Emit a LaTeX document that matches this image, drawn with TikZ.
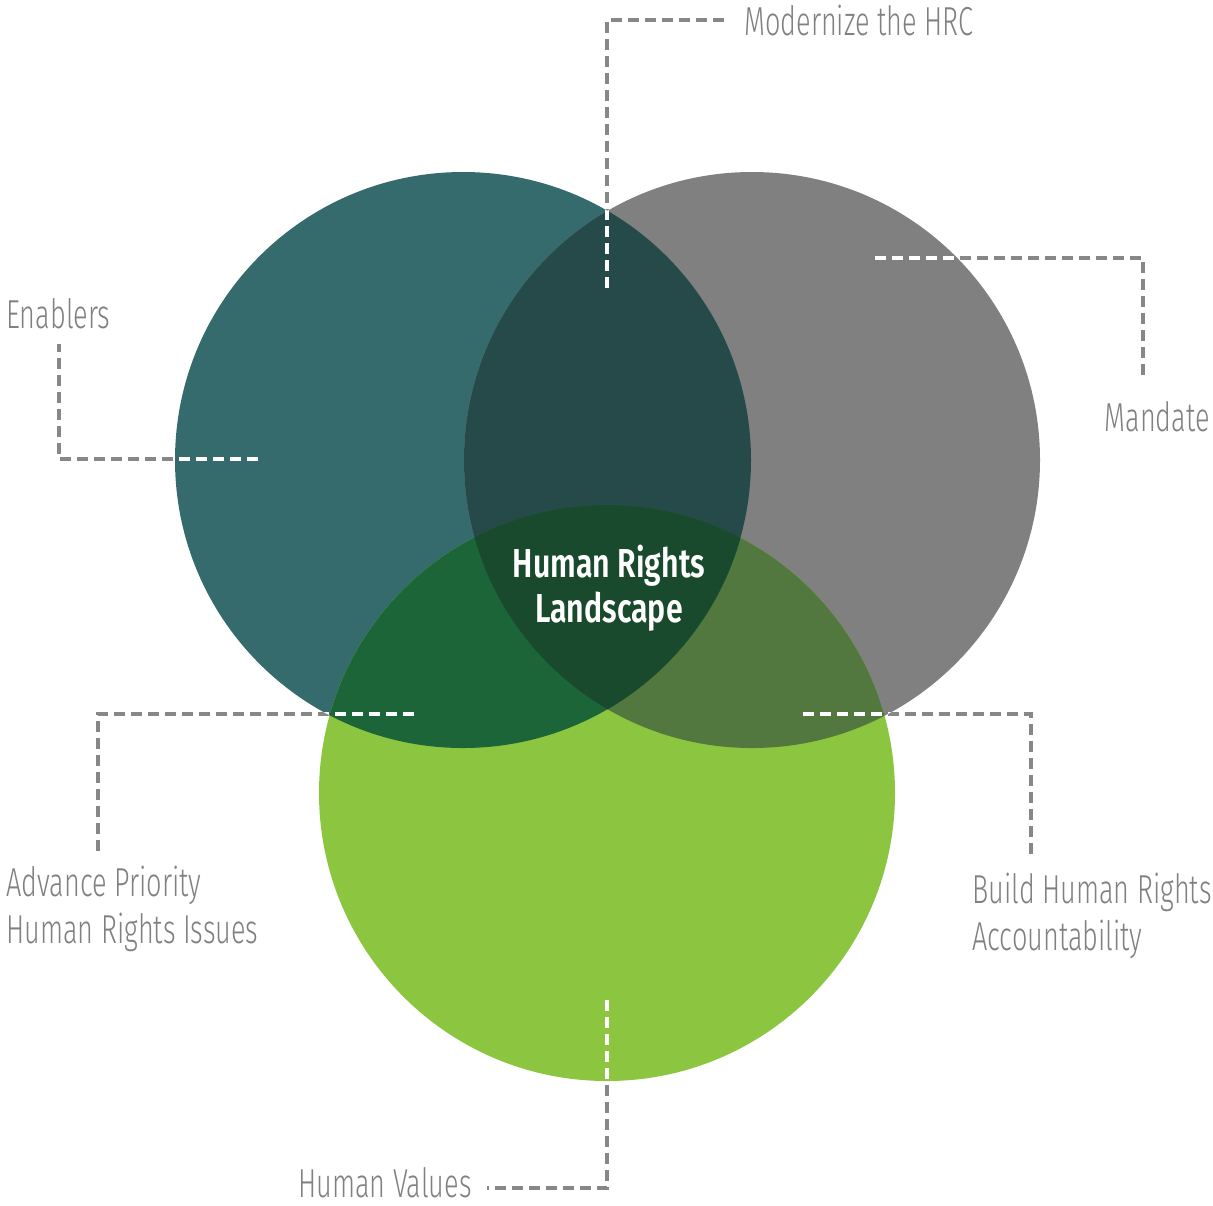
\documentclass[tikz,border=0pt]{standalone}
\usepackage{fontspec}
\setmainfont{Fira Sans}[UprightFont=* Light, FakeStretch=0.67]
\newfontfamily\corefont{Fira Sans}[UprightFont=* SemiBold, FakeStretch=0.75]
\usetikzlibrary{positioning}
\definecolor{TealRing}{HTML}{356B6D}
\definecolor{GreyRing}{HTML}{7F807F}
\definecolor{LimeRing}{HTML}{8CC540}
\definecolor{TealGrey}{HTML}{264A49}
\definecolor{TealLime}{HTML}{1B6538}
\definecolor{GreyLime}{HTML}{52773F}
\definecolor{CoreGreen}{HTML}{1A4A2E}
\definecolor{LabelGrey}{HTML}{808080}
\definecolor{LeadGrey}{HTML}{878787}
\newcommand\ringr{288}
\newcommand\drawleads[1]{%
  \draw[lead,#1] (mod-in) -- (mod-bend) -- (mod-bend -| mod.west);
  \draw[lead,#1] (en-in) -- (en-bend) -- (en-bend |- en.south);
  \draw[lead,#1,shorten >=0.5cm] (man-in) -- (man-bend) -- (man-bend |- man.north);
  \draw[lead,#1] (adv-in) -- (adv-bend) -- (adv-bend |- adv.north);
  \draw[lead,#1] (bld-in) -- (bld-bend) -- (bld-bend |- bld.north);
  \draw[lead,#1] (hv-in) -- (hv-bend) -- (hv-bend -| hv.east);}
\begin{document}
\begin{tikzpicture}[x=0.02cm,y=-0.02cm,
    lbl/.style={text=LabelGrey,inner sep=0pt,align=left,font=\fontsize{23}{26.7}\selectfont},
    lead/.style={line width=1.8pt,dash pattern=on 0.22cm off 0.12cm,shorten >=0.3cm}]
  \useasboundingbox (0,0) rectangle (1213,1205);
  \coordinate (teal) at (463,460);
  \coordinate (grey) at (752,460);
  \coordinate (lime) at (607,793);
  % the three rings
  \fill[TealRing] (teal) circle[radius=\ringr];
  \fill[GreyRing] (grey) circle[radius=\ringr];
  \fill[LimeRing] (lime) circle[radius=\ringr];
  \begin{scope}
    \clip (grey) circle[radius=\ringr];
    \fill[GreyLime] (lime) circle[radius=\ringr];
  \end{scope}
  \begin{scope}
    \clip (teal) circle[radius=\ringr];
    \fill[TealGrey] (grey) circle[radius=\ringr];
    \fill[TealLime] (lime) circle[radius=\ringr];
    \clip (grey) circle[radius=\ringr];
    \fill[CoreGreen] (lime) circle[radius=\ringr];
  \end{scope}
  \node[text=white,align=center,font=\corefont\fontsize{23}{25.5}\selectfont] (hrl) at (609,588) {Human Rights\\Landscape};
  % labels
  \node[lbl,anchor=base west] (mod) at (744,35) {Modernize the HRC};
  \node[lbl,anchor=base west] (en) at (6,328) {Enablers};
  \node[lbl,anchor=base east] (man) at (1210,431) {Mandate};
  \node[lbl,anchor=north west] (adv) at (6,866) {Advance Priority\\Human Rights Issues};
  \node[lbl,anchor=north west] (bld) at (972,873) {Build Human Rights\\Accountability};
  \node[lbl,anchor=base east] (hv) at (472,1197) {Human Values};
  % leaders
  \coordinate (mod-in) at (607,288);  \coordinate (mod-bend) at (607,20);
  \coordinate (en-in) at (258,459);   \coordinate (en-bend) at (59,459);
  \coordinate (man-in) at (875,258);  \coordinate (man-bend) at (1143,258);
  \coordinate (adv-in) at (414,714);  \coordinate (adv-bend) at (98,714);
  \coordinate (bld-in) at (803,714);  \coordinate (bld-bend) at (1031,714);
  \coordinate (hv-in) at (607,1000);  \coordinate (hv-bend) at (607,1188);
  \drawleads{LeadGrey}
  \begin{scope}
    \clip (teal) circle[radius=\ringr] (grey) circle[radius=\ringr] (lime) circle[radius=\ringr];
    \drawleads{white}
  \end{scope}
\end{tikzpicture}
\end{document}
